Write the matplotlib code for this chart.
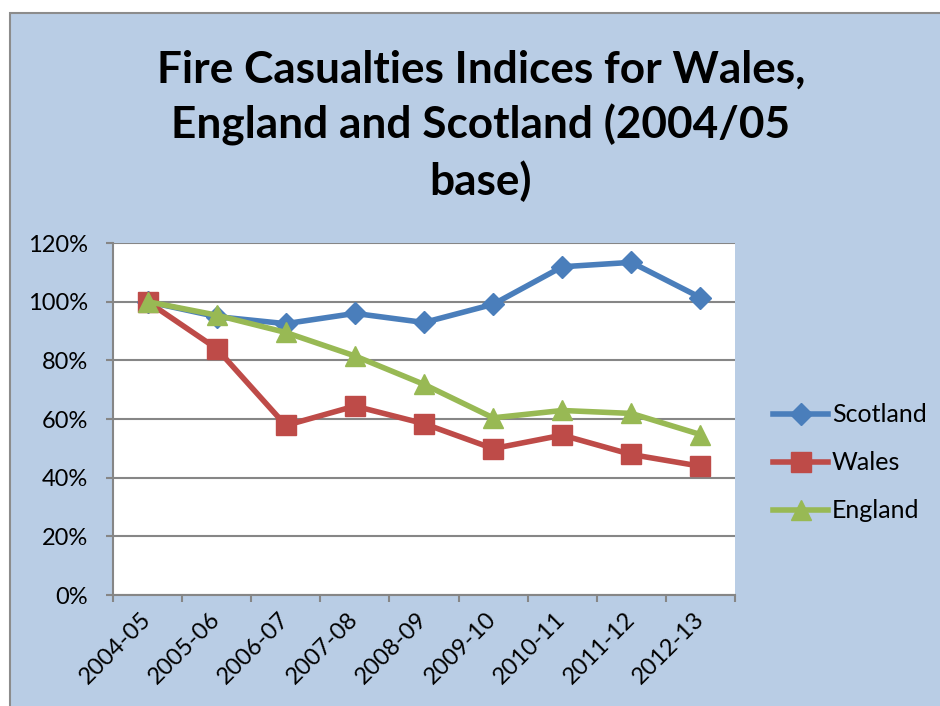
import matplotlib
matplotlib.use("Agg")
import matplotlib.pyplot as plt
from matplotlib.patches import Rectangle
import numpy as np

plt.rcParams['font.family'] = ['Lato', 'DejaVu Sans']

years = ["2004-05", "2005-06", "2006-07", "2007-08", "2008-09",
         "2009-10", "2010-11", "2011-12", "2012-13"]
scotland = [100.0, 94.9, 92.5, 96.0, 92.9, 99.1, 111.9, 113.4, 101.4]
wales = [100.0, 84.0, 57.8, 64.4, 58.4, 49.9, 54.5, 47.9, 43.9]
england = [100.0, 95.4, 89.5, 81.5, 71.8, 60.4, 62.9, 61.9, 54.7]

W, H = 940, 706
fig = plt.figure(figsize=(W / 100, H / 100), dpi=100, facecolor="white")

# chart background panel with thin grey frame
fig.patches.append(Rectangle((10 / W, -0.02), 1.0, (H - 13) / H + 0.02,
                             transform=fig.transFigure, facecolor="#B9CDE5",
                             edgecolor="#8C8C8C", linewidth=1.5, zorder=-5))

ax = fig.add_axes([113 / W, 1 - 595 / H, (735 - 113) / W, (595 - 243) / H])
ax.set_zorder(2)
ax.set_facecolor("white")

x = np.arange(len(years))
ax.plot(x, scotland, color="#4A7EBB", lw=4, marker="D", ms=11,
        label="Scotland", zorder=3)
ax.plot(x, wales, color="#BE4B48", lw=4, marker="s", ms=14,
        label="Wales", zorder=3)
ax.plot(x, england, color="#98B954", lw=4, marker="^", ms=14,
        label="England", zorder=4)

ax.set_xlim(-0.5, len(years) - 0.5)
ax.set_ylim(0, 120)
ax.set_yticks(np.arange(0, 121, 20))
ax.set_yticklabels([f"{v}%" for v in range(0, 121, 20)])
ax.yaxis.grid(True, color="#868686", lw=1.5)
ax.set_axisbelow(True)

ax.set_xticks(x)
ax.set_xticklabels(years, rotation=45, ha="right", va="center",
                   rotation_mode="anchor")
ax.set_xticks(np.arange(-0.5, len(years)), minor=True)
ax.tick_params(axis="x", which="major", length=0, pad=15, labelsize=17)
ax.tick_params(axis="x", which="minor", length=5, width=1.5, color="#868686",
               direction="out")
ax.tick_params(axis="y", length=5, width=1.5, color="#868686", pad=13,
               labelsize=17)

for side in ("top", "right"):
    ax.spines[side].set_visible(False)
for side in ("left", "bottom"):
    ax.spines[side].set_color("#868686")
    ax.spines[side].set_linewidth(1.5)

fig.legend(loc="center left", bbox_to_anchor=(773 / W, 1 - 463 / H),
           frameon=False, fontsize=18, handlelength=2.2, labelspacing=1.0,
           handletextpad=0.16, borderpad=0, borderaxespad=0)

fig.text(481 / W, 1 - 126 / H,
         "Fire Casualties Indices for Wales,\nEngland and Scotland (2004/05\nbase)",
         ha="center", va="center", fontsize=31.8, fontweight="bold",
         linespacing=1.42)

fig.savefig("out.png", dpi=100, facecolor="white")
